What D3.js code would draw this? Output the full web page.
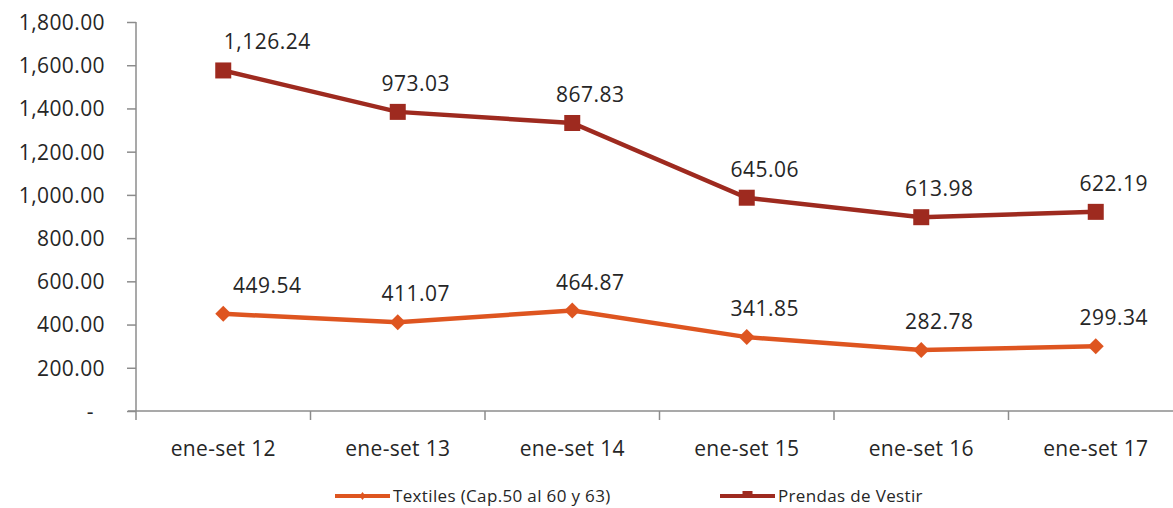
<!DOCTYPE html>
<html><head><meta charset="utf-8">
<script src="https://cdnjs.cloudflare.com/ajax/libs/d3/7.8.5/d3.min.js"></script>
<style>body{margin:0;background:#fff;} svg{display:block;font-family:'Open Sans',sans-serif;}</style>
</head><body><svg id="c" width="1173" height="508"></svg>
<script>
const categories = ["ene-set 12","ene-set 13","ene-set 14","ene-set 15","ene-set 16","ene-set 17"];
const textiles = [449.54, 411.07, 464.87, 341.85, 282.78, 299.34];
const prendas = [1126.24, 973.03, 867.83, 645.06, 613.98, 622.19];
const yTicks = [0,200,400,600,800,1000,1200,1400,1600,1800];
const seriesNames = ["Textiles (Cap.50 al 60 y 63)", "Prendas de Vestir"];

const colT = "#DE5520", colP = "#9E2A1F", axisCol = "#8c8c8c", txt = "#262626";
const svg = d3.select("#c");
const x = d3.scaleBand().domain(categories).range([136, 136 + 6*174.5]);
const y = d3.scaleLinear().domain([0,1800]).range([411, 22]);
const cx = d => x(d) + x.bandwidth()/2;

// stacked (second series drawn on top of first)
const stackedP = prendas.map((v,i)=>v + textiles[i]);

// y axis
const yAx = svg.append("g").attr("transform","translate(136,0)")
  .call(d3.axisLeft(y).tickValues(yTicks).tickSize(9).tickPadding(0)
    .tickFormat(v => v===0 ? "-" : d3.format(",.2f")(v)));
yAx.selectAll("path,line").attr("stroke",axisCol).attr("stroke-width",1.5);
yAx.select(".domain").attr("d","M0,411V22");
yAx.selectAll("text").attr("font-size",21).attr("fill",txt).attr("font-family","'Open Sans',sans-serif")
  .attr("x", v => v===0 ? -42 : -31).attr("dy","0.35em").attr("letter-spacing",0.4);

// x axis
const xAx = svg.append("g").attr("transform","translate(0,411)")
  .call(d3.axisBottom(x).tickSize(0).tickPadding(0));
xAx.select(".domain").attr("d","M128,0H1183").attr("stroke",axisCol).attr("stroke-width",1.5);
xAx.selectAll(".tick text").attr("font-size",21).attr("fill",txt).attr("font-family","'Open Sans',sans-serif").attr("y",45).attr("dy",0).attr("letter-spacing",0.3);
svg.append("g").selectAll("line").data(categories.concat(["end"])).join("line")
  .attr("x1",(d,i)=> i<6 ? x(d) : x(categories[5])+x.bandwidth())
  .attr("x2",(d,i)=> i<6 ? x(d) : x(categories[5])+x.bandwidth())
  .attr("y1",411).attr("y2",420).attr("stroke",axisCol).attr("stroke-width",1.5);

const line = d3.line().x(d=>cx(d.c)).y(d=>y(d.v));
const dT = categories.map((c,i)=>({c, v:textiles[i], lab:textiles[i]}));
const dP = categories.map((c,i)=>({c, v:stackedP[i], lab:prendas[i]}));

svg.append("path").datum(dT).attr("d",line).attr("fill","none").attr("stroke",colT).attr("stroke-width",4.5);
svg.append("path").datum(dP).attr("d",line).attr("fill","none").attr("stroke",colP).attr("stroke-width",4.5);

svg.append("g").selectAll("path").data(dT).join("path")
  .attr("transform",d=>`translate(${cx(d.c)},${y(d.v)})`)
  .attr("d","M0,-8L8,0L0,8L-8,0Z").attr("fill",colT);
svg.append("g").selectAll("rect").data(dP).join("rect")
  .attr("x",d=>cx(d.c)-8).attr("y",d=>y(d.v)-8).attr("width",16).attr("height",16).attr("fill",colP);

const fmt = d3.format(",.2f");
const extraDx = [26,0,0,0,0,0];
[dT,dP].forEach(ds=>{
  svg.append("g").selectAll("text").data(ds).join("text")
    .attr("x",(d,i)=>cx(d.c)+18+extraDx[i]).attr("y",d=>y(d.v)-21)
    .attr("text-anchor","middle").attr("font-size",21).attr("letter-spacing",0.5).attr("fill",txt)
    .text(d=>fmt(d.lab));
});

// legend
const leg = [{name:seriesNames[0], col:colT, x:335, type:"d"},{name:seriesNames[1], col:colP, x:720, type:"s"}];
const lg = svg.append("g").selectAll("g").data(leg).join("g").attr("transform",d=>`translate(${d.x},496)`);
lg.append("line").attr("x1",0).attr("x2",55).attr("stroke",d=>d.col).attr("stroke-width",4);
lg.append("path").attr("d",d=>d.type==="d" ? "M27.5,-4L30.5,0L27.5,4L24.5,0Z" : "M22.5,-5H32.5V0H22.5Z").attr("fill",d=>d.col);
lg.append("text").attr("x",58).attr("y",0).attr("dy","0.35em").attr("font-size",17).attr("letter-spacing",0.35).attr("fill",txt).text(d=>d.name);
</script></body></html>
